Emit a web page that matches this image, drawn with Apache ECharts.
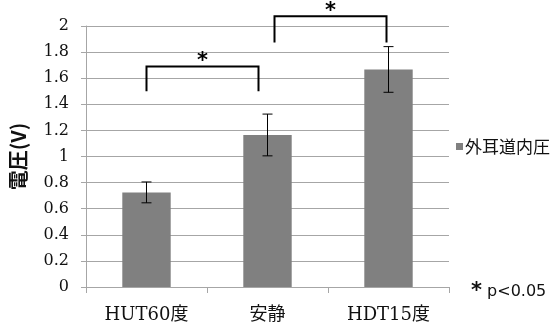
<!DOCTYPE html>
<html>
<head>
<meta charset="utf-8">
<script src="https://cdn.jsdelivr.net/npm/echarts@6/dist/echarts.min.js"></script>
<style>
  html, body { margin: 0; padding: 0; background: #fff; }
  #chart { width: 551px; height: 327px; }
</style>
</head>
<body>
<div id="chart"></div>
<script>
// Ear-canal pressure by posture
const categories = ['HUT60度', '安静', 'HDT15度'];
const seriesName = '外耳道内圧';
const means = [0.725, 1.165, 1.667];
const errors = [0.08, 0.16, 0.175];
const yTicks = [0, 0.2, 0.4, 0.6, 0.8, 1, 1.2, 1.4, 1.6, 1.8, 2];

// significance brackets: [from category, to category, leg bottom, bracket top]
const sigFrom = [0, 1];
const sigTo = [1, 2];
const sigLow = [1.5, 1.873];
const sigHigh = [1.69, 2.074];
const sigMark = '*';
const footnoteText = 'p<0.05';

const chart = echarts.init(document.getElementById('chart'), null, { renderer: 'canvas' });

const serif = 'DejaVu Serif, Noto Sans CJK JP, serif';
const sans = 'Noto Sans CJK JP, Noto Sans, sans-serif';
const starFont = 'DejaVu Sans, sans-serif';

// horizontal pixel nudges of each bracket's two legs relative to the bar centres
const legShift = [[0, -9], [7, -2]];

const errData = means.map((m, i) => [i, m - errors[i], m + errors[i]]);
const sigData = sigFrom.map((f, i) => [f, sigTo[i], sigLow[i], sigHigh[i], i]);

chart.setOption({
  animation: false,
  grid: { left: 84, right: 102, top: 26, bottom: 40 },
  legend: {
    data: [{ name: seriesName, icon: 'rect' }],
    left: 456, top: 138, padding: 0,
    itemWidth: 7, itemHeight: 7, itemGap: 2,
    textStyle: { fontFamily: sans, fontSize: 17, color: '#111', padding: [0, 0, 0, -3] }
  },
  xAxis: {
    type: 'category',
    data: categories,
    axisLine: { lineStyle: { color: '#a6a6a6', width: 1 } },
    axisTick: { show: true, length: 6, lineStyle: { color: '#a6a6a6' } },
    axisLabel: { fontFamily: serif, fontSize: 18, color: '#111', margin: 19 }
  },
  yAxis: {
    type: 'value',
    min: yTicks[0], max: yTicks[yTicks.length - 1], interval: 0.2,
    name: '電圧(V)',
    nameLocation: 'middle',
    nameGap: 58,
    nameRotate: 90,
    nameTextStyle: { fontFamily: sans, fontSize: 20, fontWeight: 'bold', color: '#111' },
    axisLine: { show: true, lineStyle: { color: '#a6a6a6' } },
    axisTick: { show: true, length: 5, lineStyle: { color: '#a6a6a6' } },
    axisLabel: { fontFamily: serif, fontSize: 16, color: '#111', margin: 17 },
    splitLine: { lineStyle: { color: '#a6a6a6', width: 1 } }
  },
  series: [
    {
      name: seriesName,
      type: 'bar',
      data: means,
      barWidth: '40%',
      itemStyle: { color: '#808080' }
    },
    {
      type: 'custom',
      name: 'err',
      data: errData,
      z: 5,
      renderItem: function (params, api) {
        const lo = api.coord([api.value(0), api.value(1)]);
        const hi = api.coord([api.value(0), api.value(2)]);
        const w = 5;
        const style = { stroke: '#000', lineWidth: 1 };
        return {
          type: 'group',
          children: [
            { type: 'line', shape: { x1: hi[0], y1: hi[1], x2: lo[0], y2: lo[1] }, style },
            { type: 'line', shape: { x1: hi[0] - w, y1: hi[1], x2: hi[0] + w, y2: hi[1] }, style },
            { type: 'line', shape: { x1: lo[0] - w, y1: lo[1], x2: lo[0] + w, y2: lo[1] }, style }
          ]
        };
      }
    },
    {
      type: 'custom',
      name: 'sig',
      data: sigData,
      z: 6,
      clip: false,
      renderItem: function (params, api) {
        const k = api.value(4);
        const a = api.coord([api.value(0), api.value(2)]);
        const b = api.coord([api.value(1), api.value(2)]);
        const top = api.coord([api.value(0), api.value(3)])[1];
        const x1 = a[0] + legShift[k][0];
        const x2 = b[0] + legShift[k][1];
        return {
          type: 'group',
          children: [
            {
              type: 'polyline',
              shape: { points: [[x1, a[1]], [x1, top], [x2, top], [x2, b[1]]] },
              style: { stroke: '#000', lineWidth: 2, fill: null }
            },
            {
              type: 'text',
              x: (x1 + x2) / 2, y: top - 5,
              style: { text: sigMark, fontFamily: starFont, fontSize: 21, fontWeight: 'bold', fill: '#000', align: 'center', verticalAlign: 'middle' }
            }
          ]
        };
      }
    }
  ],
  graphic: [
    {
      type: 'text',
      left: 471, top: 281,
      style: {
        text: '{s|' + sigMark + '} ' + footnoteText,
        fontFamily: starFont, fontSize: 16, fill: '#111',
        rich: { s: { fontFamily: starFont, fontSize: 21, fontWeight: 'bold', fill: '#111' } }
      }
    }
  ]
});
</script>
</body>
</html>
